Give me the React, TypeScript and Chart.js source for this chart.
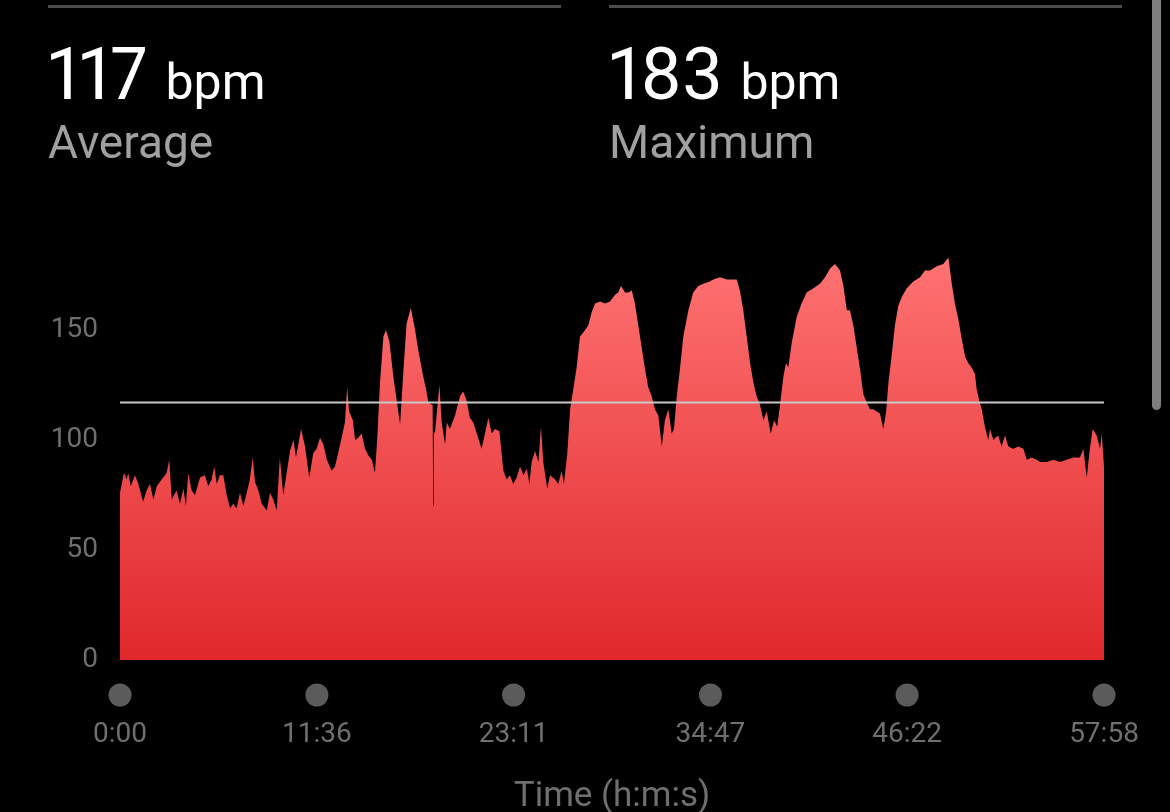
import React, { useEffect, useRef } from "react";
import { Chart, registerables } from "chart.js";

Chart.register(...registerables);

// ---- data ----
const timeSec = [
  0, 14, 24, 29, 38, 53, 65, 77, 82, 94, 106, 118, 130, 147, 165, 174, 183, 200, 212, 224,
  233, 241, 253, 265, 283, 300, 312, 324, 333, 342, 353, 365, 377, 389, 400, 412, 424, 436, 448, 459,
  469, 477, 489, 501, 519, 530, 542, 554, 565, 577, 589, 601, 613, 622, 640, 654, 669, 683, 695, 707,
  719, 731, 748, 760, 778, 795, 803, 810, 823, 831, 842, 854, 866, 878, 890, 901, 909, 919, 931, 940,
  952, 966, 978, 990, 1001, 1013, 1028, 1043, 1054, 1070, 1082, 1090, 1102, 1105, 1107, 1109, 1113, 1129, 1137, 1149,
  1155, 1166, 1184, 1202, 1213, 1225, 1237, 1249, 1261, 1278, 1290, 1302, 1314, 1325, 1341, 1355, 1367, 1378, 1390, 1402,
  1414, 1426, 1438, 1447, 1455, 1467, 1479, 1488, 1496, 1510, 1520, 1538, 1549, 1561, 1569, 1581, 1591, 1602, 1614, 1626,
  1638, 1655, 1667, 1679, 1697, 1714, 1732, 1750, 1761, 1771, 1785, 1797, 1809, 1820, 1832, 1844, 1856, 1867, 1879, 1891,
  1903, 1915, 1926, 1938, 1950, 1958, 1968, 1979, 1991, 2009, 2026, 2044, 2062, 2085, 2097, 2121, 2144, 2168, 2180, 2191,
  2203, 2215, 2227, 2239, 2250, 2262, 2274, 2286, 2300, 2312, 2323, 2333, 2345, 2354, 2362, 2374, 2392, 2409, 2427, 2451,
  2474, 2492, 2510, 2527, 2545, 2557, 2569, 2580, 2592, 2604, 2616, 2627, 2639, 2651, 2663, 2675, 2686, 2698, 2708, 2716,
  2728, 2739, 2751, 2763, 2781, 2804, 2828, 2845, 2863, 2887, 2910, 2928, 2940, 2951, 2963, 2975, 2987, 2998, 3010, 3022,
  3028, 3037, 3046, 3057, 3069, 3075, 3087, 3104, 3116, 3128, 3140, 3157, 3175, 3193, 3205, 3222, 3240, 3252, 3276, 3299,
  3323, 3346, 3370, 3393, 3405, 3417, 3428, 3438, 3452, 3464, 3470, 3478,
];

const heartRate = [
  76, 85, 82, 85, 79, 84, 80, 74, 72, 77, 80, 73, 79, 82, 85, 91, 73, 77, 71, 78,
  70, 85, 77, 75, 83, 84, 79, 82, 88, 80, 84, 84, 75, 69, 71, 69, 76, 70, 76, 82,
  92, 81, 77, 71, 68, 76, 73, 68, 92, 75, 85, 95, 100, 92, 105, 97, 83, 94, 96, 101,
  98, 91, 86, 88, 98, 108, 124, 113, 109, 100, 101, 103, 96, 93, 91, 85, 100, 126, 147, 150,
  145, 129, 118, 107, 130, 153, 160, 150, 141, 130, 123, 117, 116, 116, 70, 104, 103, 125, 108, 98,
  108, 105, 111, 120, 122, 118, 110, 108, 103, 96, 103, 110, 103, 105, 104, 86, 82, 84, 80, 83,
  88, 84, 87, 80, 90, 95, 90, 106, 90, 78, 84, 82, 80, 86, 80, 94, 114, 123, 133, 147,
  149, 152, 158, 162, 163, 162, 163, 166, 167, 170, 167, 167, 168, 162, 152, 142, 132, 124, 120, 114,
  111, 97, 109, 114, 103, 105, 120, 132, 147, 159, 167, 170, 171, 172, 173, 174, 173, 173, 173, 168,
  159, 147, 135, 126, 120, 116, 109, 113, 103, 109, 106, 116, 129, 135, 133, 144, 156, 162, 167, 169,
  171, 174, 178, 180, 177, 170, 159, 159, 152, 142, 132, 121, 117, 114, 114, 113, 112, 105, 113, 126,
  139, 152, 161, 165, 169, 172, 174, 177, 177, 179, 180, 183, 171, 162, 155, 146, 138, 135, 133, 130,
  123, 118, 114, 106, 100, 105, 100, 102, 97, 102, 97, 96, 97, 96, 91, 92, 91, 90, 90, 91,
  90, 91, 92, 92, 96, 83, 96, 105, 102, 96, 103, 88,
];

const averageBpm = 117;
const maximumBpm = 183;
const xTickSec = [0, 696, 1391, 2087, 2782, 3478];
const yTickValues = [0, 50, 100, 150];

function fmtTime(s: number): string {
  const m = Math.floor(s / 60);
  const ss = Math.round(s % 60);
  return `${m}:${String(ss).padStart(2, "0")}`;
}

const dotsPlugin = {
  id: "axisDots",
  afterDraw(chart: any) {
    const xs = chart.scales.x;
    const ctx = chart.ctx;
    const y = chart.chartArea.bottom + 35;
    ctx.save();
    ctx.fillStyle = "#5b5b5b";
    xs.ticks.forEach((t: any) => {
      const px = xs.getPixelForValue(t.value);
      ctx.beginPath();
      ctx.arc(px, y, 11.5, 0, Math.PI * 2);
      ctx.fill();
    });
    ctx.restore();
  },
};

export default function App() {
  const ref = useRef<HTMLCanvasElement | null>(null);

  useEffect(() => {
    if (!ref.current) return;
    const hrData = timeSec.map((t, i) => ({ x: t, y: heartRate[i] }));
    const avgData = [
      { x: xTickSec[0], y: averageBpm },
      { x: xTickSec[xTickSec.length - 1], y: averageBpm },
    ];
    const chart = new Chart(ref.current, {
      type: "line",
      data: {
        datasets: [
          {
            label: "Average",
            data: avgData,
            borderColor: "#c8c8c8",
            borderWidth: 2,
            pointRadius: 0,
            fill: false,
            order: 0,
          },
          {
            label: "Heart rate",
            data: hrData,
            borderWidth: 0,
            borderColor: "rgba(0,0,0,0)",
            pointRadius: 0,
            tension: 0,
            fill: "origin",
            order: 1,
            backgroundColor: (c: any) => {
              const ch = c.chart;
              const area = ch.chartArea;
              if (!area) return "#f04848";
              const top = ch.scales.y.getPixelForValue(maximumBpm);
              const g = ch.ctx.createLinearGradient(0, top, 0, area.bottom);
              g.addColorStop(0, "#ff7272");
              g.addColorStop(1, "#e0282c");
              return g;
            },
          },
        ],
      },
      options: {
        responsive: false,
        animation: false,
        layout: { padding: { top: 242, right: 66, bottom: 0, left: 0 } },
        plugins: { legend: { display: false }, tooltip: { enabled: false } },
        scales: {
          x: {
            type: "linear",
            min: 0,
            max: 3478,
            grid: { display: false, drawTicks: false },
            border: { display: false },
            afterBuildTicks: (s: any) => {
              s.ticks = xTickSec.map((v) => ({ value: v }));
            },
            afterFit: (s: any) => {
              s.height = 152;
              s.paddingLeft = 0;
              s.paddingRight = 0;
            },
            ticks: {
              color: "#6f6f6f",
              font: { family: "Roboto", size: 28 },
              padding: 58,
              maxRotation: 0,
              autoSkip: false,
              callback: (v: any) => fmtTime(Number(v)),
            },
            title: {
              display: true,
              text: "Time (h:m:s)",
              color: "#6f6f6f",
              font: { family: "Roboto", size: 35 },
              padding: { top: 0, bottom: -6 },
            },
          },
          y: {
            min: 0,
            max: 190,
            grid: { display: false, drawTicks: false },
            border: { display: false },
            afterBuildTicks: (s: any) => {
              s.ticks = yTickValues.map((v) => ({ value: v }));
            },
            afterFit: (s: any) => {
              s.width = 120;
            },
            ticks: {
              color: "#6f6f6f",
              font: { family: "Roboto", size: 28 },
              padding: 22,
            },
          },
        },
      },
      plugins: [dotsPlugin],
    } as any);
    return () => chart.destroy();
  }, []);

  const numStyle: React.CSSProperties = { fontSize: 72, fontVariantNumeric: "proportional-nums" };

  return (
    <div
      style={{
        position: "fixed",
        left: 0,
        top: 0,
        width: 1170,
        height: 812,
        background: "#000",
        overflow: "hidden",
        fontFamily: "Roboto, sans-serif",
      }}
    >
      <canvas ref={ref} width={1170} height={812} style={{ position: "absolute", left: 0, top: 0 }} />
      <div style={{ position: "absolute", left: 48, top: 5, width: 513, height: 3, background: "#4d4d4d" }} />
      <div style={{ position: "absolute", left: 609, top: 5, width: 513, height: 3, background: "#4d4d4d" }} />
      <div style={{ position: "absolute", left: 48, top: 39, color: "#fff", fontSize: 72, lineHeight: 1, whiteSpace: "nowrap" }}>
        <span style={numStyle}>{averageBpm}</span>
        <span style={{ fontSize: 72 }}> </span>
        <span style={{ fontSize: 50 }}>bpm</span>
      </div>
      <div style={{ position: "absolute", left: 48, top: 119, color: "#a0a0a0", fontSize: 46, lineHeight: 1, whiteSpace: "nowrap" }}>
        Average
      </div>
      <div style={{ position: "absolute", left: 609, top: 39, color: "#fff", fontSize: 72, lineHeight: 1, whiteSpace: "nowrap" }}>
        <span style={numStyle}>{maximumBpm}</span>
        <span style={{ fontSize: 72 }}> </span>
        <span style={{ fontSize: 50 }}>bpm</span>
      </div>
      <div style={{ position: "absolute", left: 609, top: 119, color: "#a0a0a0", fontSize: 46, lineHeight: 1, whiteSpace: "nowrap" }}>
        Maximum
      </div>
      <div style={{ position: "absolute", left: 1152, top: -6, width: 9, height: 416, background: "#7f7f7f", borderRadius: 5 }} />
    </div>
  );
}
